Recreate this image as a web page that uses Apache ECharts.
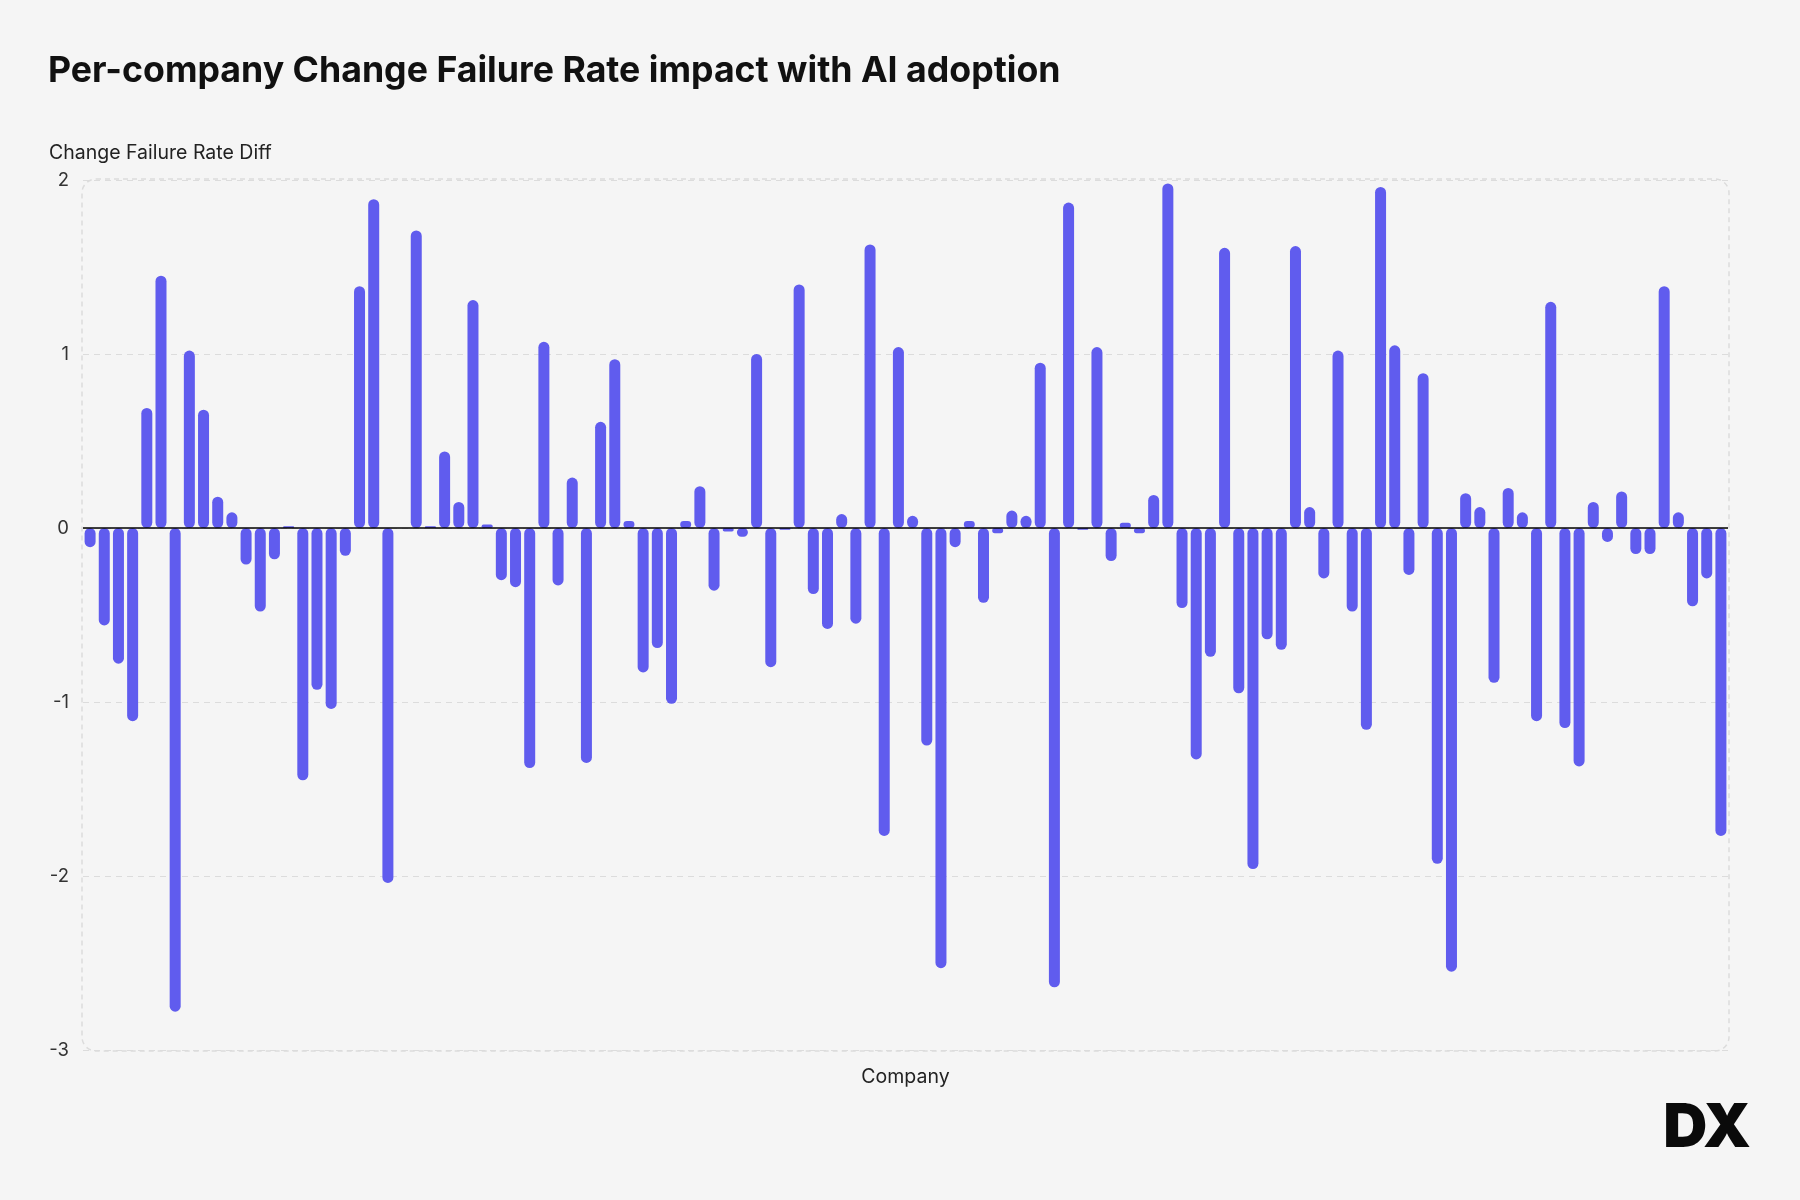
<!DOCTYPE html>
<html>
<head>
<meta charset="utf-8">
<script src="https://cdn.jsdelivr.net/npm/echarts@6/dist/echarts.min.js"></script>
<style>
html,body{margin:0;padding:0;background:#f5f5f5;}
#chart{width:1800px;height:1200px;}
</style>
</head>
<body>
<div id="chart"></div>
<script>
const titleText = 'Per-company Change Failure Rate impact with AI adoption';
const yAxisTitle = 'Change Failure Rate Diff';
const xAxisTitle = 'Company';
const values = [
  -0.11, -0.56, -0.78, -1.11, 0.69, 1.45, -2.78, 1.02, 0.68, 0.18,
  0.09, -0.21, -0.48, -0.18, 0.01, -1.45, -0.93, -1.04, -0.16, 1.39,
  1.89, -2.04, 0, 1.71, 0.01, 0.44, 0.15, 1.31, 0.02, -0.30,
  -0.34, -1.38, 1.07, -0.33, 0.29, -1.35, 0.61, 0.97, 0.04, -0.83,
  -0.69, -1.01, 0.04, 0.24, -0.36, -0.02, -0.05, 1.00, -0.80, -0.01,
  1.40, -0.38, -0.58, 0.08, -0.55, 1.63, -1.77, 1.04, 0.07, -1.25,
  -2.53, -0.11, 0.04, -0.43, -0.03, 0.10, 0.07, 0.95, -2.64, 1.87,
  -0.01, 1.04, -0.19, 0.03, -0.03, 0.19, 1.98, -0.46, -1.33, -0.74,
  1.61, -0.95, -1.96, -0.64, -0.70, 1.62, 0.12, -0.29, 1.02, -0.48,
  -1.16, 1.96, 1.05, -0.27, 0.89, -1.93, -2.55, 0.20, 0.12, -0.89,
  0.23, 0.09, -1.11, 1.30, -1.15, -1.37, 0.15, -0.08, 0.21, -0.15,
  -0.15, 1.39, 0.09, -0.45, -0.29, -1.77
];
const categories = values.map((v, i) => 'Company ' + (i + 1));
const yTicks = { min: -3, max: 2, interval: 1 };

const FONT = 'Inter, "Noto Sans", sans-serif';
const GRID = { left: 83, right: 72, top: 180, bottom: 150 };

const chart = echarts.init(document.getElementById('chart'), null, { renderer: 'canvas' });
chart.setOption({
  backgroundColor: '#f5f5f5',
  animation: false,
  textStyle: { fontFamily: FONT },
  title: [
    { text: titleText, left: 43, top: 48,
      textStyle: { fontFamily: FONT, fontSize: 35.7, fontWeight: 700, color: '#111111' } },
    { text: yAxisTitle, left: 44, top: 138,
      textStyle: { fontFamily: FONT, fontSize: 19.5, fontWeight: 400, color: '#222222' } }
  ],
  grid: GRID,
  xAxis: {
    type: 'category',
    data: categories,
    boundaryGap: true,
    name: xAxisTitle,
    nameLocation: 'middle',
    nameGap: 27,
    nameTextStyle: { fontFamily: FONT, fontSize: 19.5, color: '#222222', verticalAlign: 'middle' },
    axisLine: { show: false },
    axisTick: { show: false },
    axisLabel: { show: false },
    splitLine: { show: false }
  },
  yAxis: {
    type: 'value',
    min: yTicks.min, max: yTicks.max, interval: yTicks.interval,
    axisLine: { show: false },
    axisTick: { show: false },
    axisLabel: { fontFamily: FONT, fontSize: 18.5, color: '#333333', margin: 14 },
    splitLine: { show: true, lineStyle: { color: '#dcdcdc', type: [6, 5], width: 1 } }
  },
  graphic: [
    { type: 'rect', silent: true, z: 0,
      shape: { x: GRID.left - 1, y: GRID.top - 1, width: 1800 - GRID.left - GRID.right + 2, height: 1200 - GRID.top - GRID.bottom + 2, r: 14 },
      style: { fill: 'none', stroke: '#dcdcdc', lineWidth: 1.5, lineDash: [5, 4] } },
    { type: 'text', right: 49, bottom: 41, z: 10,
      style: { text: 'DX', fontFamily: FONT, fontSize: 61, fontWeight: 900, fill: '#0a0a0a' } }
  ],
  series: [{
    type: 'bar',
    data: values,
    barWidth: 11,
    itemStyle: { color: '#605cee', borderRadius: 5.5 },
    markLine: {
      silent: true, symbol: 'none', label: { show: false },
      lineStyle: { color: '#000000', type: 'solid', width: 1.5 },
      data: [{ yAxis: 0 }]
    }
  }]
});
</script>
</body>
</html>
